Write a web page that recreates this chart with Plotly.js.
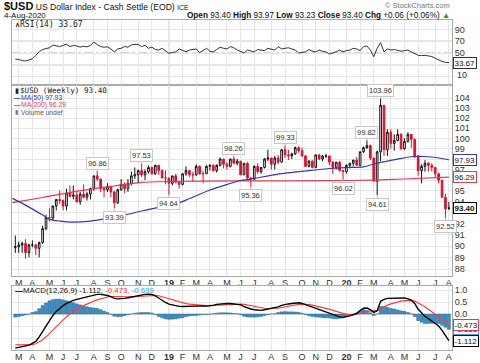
<!DOCTYPE html>
<html><head><meta charset="utf-8">
<script src="https://cdn.plot.ly/plotly-3.0.1.min.js"></script>
<style>html,body{margin:0;padding:0;background:#fff;}#chart{width:480px;height:363px;}</style>
</head><body><div id="chart"></div>
<script>
// ---------- DATA ----------
const weeks = [
'2018-02-26','2018-03-05','2018-03-12','2018-03-19','2018-03-26','2018-04-02','2018-04-09','2018-04-16','2018-04-23','2018-04-30',
'2018-05-07','2018-05-14','2018-05-21','2018-05-28','2018-06-04','2018-06-11','2018-06-18','2018-06-25','2018-07-02','2018-07-09',
'2018-07-16','2018-07-23','2018-07-30','2018-08-06','2018-08-13','2018-08-20','2018-08-27','2018-09-03','2018-09-10','2018-09-17',
'2018-09-24','2018-10-01','2018-10-08','2018-10-15','2018-10-22','2018-10-29','2018-11-05','2018-11-12','2018-11-19','2018-11-26',
'2018-12-03','2018-12-10','2018-12-17','2018-12-24','2018-12-31','2019-01-07','2019-01-14','2019-01-21','2019-01-28','2019-02-04',
'2019-02-11','2019-02-18','2019-02-25','2019-03-04','2019-03-11','2019-03-18','2019-03-25','2019-04-01','2019-04-08','2019-04-15',
'2019-04-22','2019-04-29','2019-05-06','2019-05-13','2019-05-20','2019-05-27','2019-06-03','2019-06-10','2019-06-17','2019-06-24',
'2019-07-01','2019-07-08','2019-07-15','2019-07-22','2019-07-29','2019-08-05','2019-08-12','2019-08-19','2019-08-26','2019-09-02',
'2019-09-09','2019-09-16','2019-09-23','2019-09-30','2019-10-07','2019-10-14','2019-10-21','2019-10-28','2019-11-04','2019-11-11',
'2019-11-18','2019-11-25','2019-12-02','2019-12-09','2019-12-16','2019-12-23','2019-12-30','2020-01-06','2020-01-13','2020-01-20',
'2020-01-27','2020-02-03','2020-02-10','2020-02-17','2020-02-24','2020-03-02','2020-03-09','2020-03-16','2020-03-23','2020-03-30',
'2020-04-06','2020-04-13','2020-04-20','2020-04-27','2020-05-04','2020-05-11','2020-05-18','2020-05-25','2020-06-01','2020-06-08',
'2020-06-15','2020-06-22','2020-06-29','2020-07-06','2020-07-13','2020-07-20','2020-07-27','2020-08-03'];

const openP = [
89.85,89.94,90.09,90.23,89.43,90.10,90.10,89.80,90.30,91.55,
92.55,92.50,93.60,94.20,94.10,93.60,94.80,94.50,94.60,94.00,
94.70,94.40,94.70,95.20,96.40,96.10,95.20,95.10,95.40,94.90,
93.90,95.10,95.60,95.20,95.70,96.40,96.50,96.90,96.50,96.80,
97.20,96.60,97.40,96.90,96.20,96.20,95.70,96.40,95.80,95.60,
96.60,96.90,96.50,96.50,97.30,96.60,96.60,97.30,97.40,96.90,
97.40,98.00,97.50,97.30,98.00,97.60,97.80,96.50,97.60,96.20,
96.10,97.30,96.80,97.20,98.00,98.10,97.50,98.10,97.70,98.90,
98.40,98.30,98.50,99.10,98.80,98.30,97.30,97.80,97.20,98.40,
98.00,98.30,98.30,97.70,97.20,97.70,96.90,96.80,97.40,97.60,
97.90,97.40,98.70,99.10,99.30,98.10,95.90,98.70,103.30,98.90,
100.60,99.50,99.80,100.40,99.00,99.70,100.40,99.90,98.30,96.90,
97.30,97.60,97.40,97.20,96.60,96.00,94.40,93.40];
const highP = [
90.93,90.40,90.40,90.60,90.20,90.50,90.20,90.40,91.80,92.80,
93.40,93.60,94.20,95.00,94.20,95.20,95.50,95.50,95.00,94.90,
95.60,94.90,95.30,96.40,96.86,96.10,95.30,95.70,95.50,95.00,
95.20,96.10,95.80,96.10,96.80,97.20,97.00,97.53,97.00,97.40,
97.30,97.45,97.45,97.00,96.90,96.20,96.40,96.60,95.90,96.60,
97.30,96.90,96.80,97.50,97.40,96.90,97.40,97.50,97.50,97.50,
98.15,98.00,97.70,98.00,98.26,98.00,97.80,97.60,97.70,96.30,
97.40,97.60,97.20,98.10,98.90,98.10,98.30,98.40,98.90,99.33,
98.90,98.60,99.20,99.25,99.10,98.40,97.90,97.90,98.40,98.50,
98.40,98.50,98.30,97.80,97.70,97.80,96.90,97.50,97.60,97.90,
98.20,98.70,99.20,99.82,99.40,98.10,98.80,103.96,103.30,100.90,
100.90,100.40,100.90,100.50,100.00,100.60,100.40,100.00,98.40,97.50,
97.90,97.70,97.60,97.20,96.70,96.00,94.70,93.97];
const lowP = [
89.40,89.40,89.40,88.90,89.00,89.90,89.20,89.00,90.20,91.40,
92.20,92.30,93.20,93.80,93.20,93.20,94.40,94.20,93.90,93.70,
94.30,94.10,94.20,95.00,95.90,94.90,94.40,94.90,94.40,93.39,
93.80,95.00,94.80,94.90,95.50,96.10,95.70,96.30,96.00,96.60,
96.50,96.50,96.50,96.20,95.60,94.64,95.50,95.70,95.20,95.50,
96.40,96.30,95.90,96.40,96.50,95.70,96.60,96.90,96.80,96.70,
97.30,97.10,97.00,97.20,97.50,97.40,96.50,96.50,96.10,95.36,
96.00,96.60,96.60,97.10,97.80,97.00,97.00,97.50,97.70,98.10,
97.90,98.00,98.40,98.60,98.20,97.30,97.20,97.10,97.10,97.90,
97.80,98.10,97.40,96.60,97.00,96.80,96.02,96.60,97.10,97.30,
97.40,97.30,98.60,99.00,97.90,95.90,94.61,97.80,98.30,98.30,
99.00,98.80,99.70,98.90,98.90,99.60,99.10,98.10,96.40,95.70,
96.80,96.80,96.80,96.20,95.70,94.40,92.52,93.23];
const closeP = [
89.94,90.09,90.23,89.43,90.10,90.10,89.80,90.30,91.55,92.55,
92.50,93.60,94.20,94.10,93.60,94.80,94.50,94.60,94.00,94.70,
94.40,94.70,95.20,96.40,96.10,95.20,95.10,95.40,94.90,93.90,
95.10,95.60,95.20,95.70,96.40,96.50,96.90,96.50,96.80,97.20,
96.60,97.40,96.90,96.20,96.20,95.70,96.40,95.80,95.60,96.60,
96.90,96.50,96.50,97.30,96.60,96.60,97.30,97.40,96.90,97.40,
98.00,97.50,97.30,98.00,97.60,97.80,96.50,97.60,96.20,96.10,
97.30,96.80,97.20,98.00,98.10,97.50,98.10,97.70,98.90,98.40,
98.30,98.50,99.10,98.80,98.30,97.30,97.80,97.20,98.40,98.00,
98.30,98.30,97.70,97.20,97.70,96.90,96.80,97.40,97.60,97.90,
97.40,98.70,99.10,99.30,98.10,95.90,98.70,103.30,98.90,100.60,
99.50,99.80,100.40,99.00,99.70,100.40,99.90,98.30,96.90,97.30,
97.60,97.40,97.20,96.60,96.00,94.40,93.34,93.40];

const ma50Dates = ['2018-02-20','2018-03-19','2018-04-23','2018-05-07','2018-05-28','2018-06-25','2018-07-30','2018-09-03','2018-10-08','2018-11-12','2018-12-10','2019-01-14','2019-02-11','2019-04-01','2019-06-03','2019-06-24','2019-08-19','2019-10-21','2019-12-09','2020-01-06','2020-02-10','2020-03-16','2020-04-20','2020-05-18','2020-06-22','2020-07-20','2020-08-03'];
const ma50 = [94.30,93.68,92.77,92.38,92.23,92.14,92.23,92.47,92.77,93.14,93.41,93.68,94.14,95.07,95.96,96.10,96.57,96.89,97.12,97.19,97.26,97.68,98.00,98.22,98.22,98.05,97.93];
const ma200Dates = ['2018-02-20','2018-04-23','2018-06-25','2018-09-03','2018-11-12','2019-01-07','2019-06-03','2019-12-02','2020-03-02','2020-04-20','2020-08-03'];
const ma200 = [93.91,94.38,94.90,95.36,95.78,95.87,95.92,95.95,95.99,96.08,96.29];

const rsi = [
39.5,39.0,37.0,36.5,38.0,40.0,46.0,52.0,56.0,58.0,
59.0,63.5,62.0,61.0,63.0,65.0,61.0,63.0,62.0,60.0,
61.5,60.5,63.0,68.8,64.5,61.0,60.0,60.5,57.0,52.0,
57.0,58.0,61.0,60.0,64.0,64.0,65.0,61.0,63.0,58.0,
60.0,56.0,55.0,58.0,54.0,49.4,51.0,52.0,57.0,54.0,
52.0,55.0,56.0,57.0,50.5,55.0,58.0,53.0,52.0,56.0,
60.0,58.0,57.0,61.0,59.0,55.0,53.0,50.0,55.0,54.0,
52.0,56.0,55.0,54.0,58.0,57.0,55.0,61.0,57.0,58.0,
59.0,57.0,55.0,50.0,51.0,52.0,56.0,53.0,52.0,55.0,
53.0,52.0,48.3,50.0,52.0,55.0,52.0,54.0,55.0,58.0,
57.0,54.0,61.0,62.0,55.0,43.7,58.0,67.6,52.0,57.0,
55.0,56.0,55.0,53.0,54.0,55.0,52.0,49.0,46.0,45.5,
46.0,45.0,44.0,41.0,38.0,35.5,34.0,33.67];

const signalLine = [
-1.29,-1.29,-1.30,-1.30,-1.30,-1.28,-1.24,-1.17,-1.07,-0.95,
-0.81,-0.66,-0.51,-0.37,-0.24,-0.11,0.00,0.10,0.19,0.27,
0.35,0.42,0.48,0.54,0.59,0.64,0.68,0.71,0.73,0.74,
0.74,0.73,0.72,0.71,0.71,0.72,0.73,0.74,0.76,0.77,
0.78,0.78,0.76,0.72,0.68,0.63,0.58,0.53,0.49,0.46,
0.43,0.41,0.39,0.38,0.37,0.36,0.35,0.35,0.35,0.36,
0.37,0.38,0.39,0.40,0.41,0.41,0.41,0.40,0.37,0.34,
0.31,0.28,0.25,0.24,0.23,0.23,0.23,0.24,0.27,0.30,
0.33,0.35,0.38,0.40,0.41,0.41,0.39,0.37,0.34,0.31,
0.28,0.24,0.20,0.16,0.11,0.06,0.02,-0.01,-0.02,-0.02,
-0.01,0.02,0.06,0.10,0.13,0.13,0.14,0.22,0.30,0.37,
0.42,0.47,0.51,0.54,0.56,0.57,0.57,0.54,0.47,0.39,
0.30,0.20,0.10,0.00,-0.10,-0.21,-0.33,-0.473];
const macdLine = [
-1.42,-1.39,-1.37,-1.34,-1.30,-1.22,-1.14,-0.95,-0.72,-0.49,
-0.26,-0.06,0.11,0.25,0.35,0.44,0.51,0.57,0.61,0.65,
0.68,0.72,0.75,0.79,0.82,0.82,0.80,0.77,0.72,0.65,
0.63,0.63,0.65,0.68,0.71,0.75,0.78,0.80,0.82,0.83,
0.82,0.76,0.66,0.56,0.48,0.41,0.37,0.33,0.32,0.31,
0.32,0.33,0.33,0.32,0.33,0.34,0.33,0.34,0.36,0.40,
0.42,0.43,0.44,0.44,0.43,0.42,0.38,0.31,0.25,0.21,
0.18,0.16,0.15,0.18,0.21,0.23,0.24,0.30,0.36,0.40,
0.42,0.44,0.46,0.47,0.44,0.39,0.32,0.27,0.22,0.18,
0.13,0.08,0.04,-0.03,-0.09,-0.12,-0.14,-0.12,-0.08,-0.03,
0.03,0.14,0.24,0.25,0.18,0.07,0.14,0.53,0.61,0.65,
0.65,0.68,0.68,0.67,0.67,0.63,0.58,0.44,0.20,0.05,
-0.10,-0.19,-0.29,-0.38,-0.50,-0.68,-0.88,-1.112];
const macdHist = [
-0.13,-0.10,-0.07,-0.04,0.00,0.06,0.10,0.22,0.35,0.46,
0.55,0.60,0.62,0.62,0.59,0.55,0.51,0.47,0.42,0.38,
0.33,0.30,0.27,0.25,0.23,0.18,0.12,0.06,-0.01,-0.09,
-0.11,-0.10,-0.07,-0.03,0.00,0.03,0.05,0.06,0.06,0.06,
0.04,-0.02,-0.10,-0.16,-0.20,-0.22,-0.21,-0.20,-0.17,-0.15,
-0.11,-0.08,-0.06,-0.06,-0.04,-0.02,-0.02,-0.01,0.01,0.04,
0.05,0.05,0.05,0.04,0.02,0.01,-0.03,-0.09,-0.12,-0.13,
-0.13,-0.12,-0.10,-0.06,-0.02,0.00,0.01,0.06,0.09,0.10,
0.09,0.09,0.08,0.07,0.03,-0.02,-0.07,-0.10,-0.12,-0.13,
-0.15,-0.16,-0.16,-0.19,-0.20,-0.18,-0.16,-0.11,-0.06,-0.01,
0.04,0.12,0.18,0.15,0.05,-0.06,0.00,0.31,0.31,0.28,
0.23,0.21,0.17,0.13,0.11,0.06,0.01,-0.10,-0.27,-0.34,
-0.40,-0.39,-0.39,-0.38,-0.40,-0.47,-0.55,-0.639];

const peakDates = ['2018-08-13','2018-11-12','2019-05-20','2019-09-02','2020-02-17','2020-03-16'];
const peakValues = [96.86,97.53,98.26,99.33,99.82,103.96];
const troughDates = ['2018-09-17','2019-01-07','2019-06-24','2019-12-30','2020-03-09','2020-07-27'];
const troughValues = [93.39,94.64,95.36,96.02,94.61,92.52];

const monthLetters = ['J','F','M','A','M','J','J','A','S','O','N','D'];
const priceTicks = [88,89,90,91,92,93,94,95,96,97,98,99,100,101,102,103,104];
const priceTickText = ['88','89','90','91','92','','94','95','','97','','99','100','101','102','103','104'];
const rsiTicks = [10,30,50,70,90];
const rsiTickText = ['10','','50','70','90'];
const macdTicks = [-1,-0.5,0,0.5,1];
const macdTickText = ['','','0.0','0.5','1.0'];

// ---------- BUILD ----------
const F = 'Liberation Sans, Arial, sans-serif';
const MONO = 'DejaVu Sans Mono, Liberation Mono, monospace';
const BLUE = '#3838a8', RED = '#e23a55', CANDLE_RED = '#e0102f', HIST = '#3f8fc4';
const n = weeks.length;
const last = n - 1;

const tickvals = [], ticktext = [], yearTicks = [];
let prevKey = weeks[0].slice(0, 7);
weeks.forEach((d, i) => {
  const key = d.slice(0, 7);
  if (i > 0 && key !== prevKey) {
    const m = +d.slice(5, 7);
    tickvals.push(d);
    if (m === 1) { ticktext.push('<b>' + d.slice(2, 4) + '</b>'); yearTicks.push(d); }
    else ticktext.push(monthLetters[m - 1]);
  }
  prevKey = key;
});

const xRange = ['2018-02-19 05:30', '2020-08-09 10:00'];
const GRID = '#e6e6e6', BORDER = '#aaaaaa';

const traces = [
  {type:'scatter', mode:'lines', x:weeks, y:rsi, xaxis:'x', yaxis:'y', line:{color:'#333', width:1}, hoverinfo:'skip'},
  {type:'scatter', mode:'lines', x:ma200Dates, y:ma200, xaxis:'x2', yaxis:'y2', line:{color:RED, width:1.2, shape:'spline', smoothing:0.6}, hoverinfo:'skip'},
  {type:'scatter', mode:'lines', x:ma50Dates, y:ma50, xaxis:'x2', yaxis:'y2', line:{color:BLUE, width:1.2, shape:'spline', smoothing:0.6}, hoverinfo:'skip'},
  {type:'candlestick', x:weeks, open:openP, high:highP, low:lowP, close:closeP, xaxis:'x2', yaxis:'y2',
   increasing:{line:{color:'#111', width:1}, fillcolor:'#ffffff'},
   decreasing:{line:{color:CANDLE_RED, width:1}, fillcolor:CANDLE_RED},
   whiskerwidth:0, hoverinfo:'skip'},
  {type:'bar', x:weeks, y:macdHist, xaxis:'x3', yaxis:'y3', marker:{color:HIST, line:{color:'#23648f', width:0.5}}, hoverinfo:'skip'},
  {type:'scatter', mode:'lines', x:weeks, y:signalLine, xaxis:'x3', yaxis:'y3', line:{color:'#ff3b3b', width:1.2}, hoverinfo:'skip'},
  {type:'scatter', mode:'lines', x:weeks, y:macdLine, xaxis:'x3', yaxis:'y3', line:{color:'#000', width:1.4}, hoverinfo:'skip'}
];

function xAx(anchor, showLabels) {
  return {anchor, domain:[0,1], type:'date', range:xRange, tickvals, ticktext, showticklabels:showLabels,
    tickfont:{family:F, size:9, color:'#333'}, ticks:'', ticklabelstandoff:-2, showgrid:true, gridcolor:GRID, gridwidth:1,
    showline:true, mirror:true, linecolor:BORDER, linewidth:1, zeroline:false, rangeslider:{visible:false}, fixedrange:true};
}
function yAx(domain, extra) {
  return Object.assign({domain, side:'right', ticks:'', showgrid:true, gridcolor:GRID, showline:true, mirror:true,
    linecolor:BORDER, linewidth:1, zeroline:false, fixedrange:true, ticklabeloverflow:'allow',
    tickfont:{family:F, size:9, color:'#333'}}, extra);
}

// plot area: x 12..452, y 20..350
const px2x = x => (x - 12) / 440, px2y = y => (350 - y) / 330;
const ann = [];
function txt(xp, yp, text, size, color, extra) {
  ann.push(Object.assign({xref:'paper', yref:'paper', x:px2x(xp), y:px2y(yp), text, showarrow:false,
    xanchor:'left', yanchor:'middle', font:{family:F, size, color}}, extra || {}));
}
const f2 = v => v.toFixed(2);
const chg = closeP[last] - closeP[last - 1];

txt(2, 6.5, '<span style="font-size:11px"><b>$USD</b></span> US Dollar Index - Cash Settle (EOD) <span style="font-size:7px">ICE</span>', 8.6, '#111');
txt(2, 15.5, '4-Aug-2020', 8, '#111');
txt(452, 5, '© StockCharts.com', 7.5, '#777', {xanchor:'right'});
txt(452, 15.5, '<b>Open</b> ' + f2(openP[last]) + ' <b>High</b> ' + f2(highP[last]) + ' <b>Low</b> ' + f2(lowP[last]) +
  ' <b>Close</b> ' + f2(closeP[last]) + ' <b>Chg</b> +' + f2(chg) + ' (+' + f2(chg / closeP[last - 1] * 100) + '%) <span style="color:#22a022">▲</span>',
  8.2, '#111', {xanchor:'right'});

// RSI "10" tick label (drawn as text next to the axis)
ann.push({xref:'paper', yref:'y', x:1, y:rsiTicks[0] + 2, xanchor:'left', yanchor:'middle', xshift:3, showarrow:false,
  text:rsiTickText[0], font:{family:F, size:9, color:'#333'}});

// panel legends
txt(12.5, 24.5, '<b>∧</b>', 7, '#333');
txt(18, 24.5, 'RSI(14) ' + f2(rsi[last]), 8, '#222', {font:{family:MONO, size:8, color:'#222'}});
txt(12.5, 90.5, '▮', 7, '#222');
txt(18, 90.5, '$USD (Weekly) ' + f2(closeP[last]), 8, '#222', {font:{family:MONO, size:7.6, color:'#222'}});
txt(12, 97.6, '<b>—</b>', 6.5, BLUE);
txt(19, 97.6, 'MA(50) ' + f2(ma50[ma50.length - 1]), 6.8, BLUE);
txt(12, 104.8, '<b>—</b>', 6.5, RED);
txt(19, 104.8, 'MA(200) ' + f2(ma200[ma200.length - 1]), 6.8, RED);
txt(12.5, 112, '▮', 6, '#777');
txt(19, 112, 'Volume undef', 6.8, '#555');
txt(12.5, 290.5, '<b>—</b>', 8, '#000');
txt(21, 290.5, 'MACD(12,26,9) ' + macdLine[last].toFixed(3) + ', <span style="color:#ff3030">' + signalLine[last].toFixed(3) +
  ',</span> <span style="color:#3aa0dc">' + macdHist[last].toFixed(3) + '</span>', 7.8, '#111');

// swing labels
function swing(d, v, up) {
  ann.push({xref:'x2', yref:'y2', x:d, y:Math.log10(v), text:f2(v), showarrow:true, arrowhead:0, arrowwidth:1,
    arrowcolor:'#bbbbbb', ax:0, ay:up ? -8 : 9, standoff:0, bgcolor:'#ffffff', bordercolor:'#c8c8c8', borderwidth:1,
    borderpad:1, font:{family:F, size:7.5, color:'#333'}});
}
peakDates.forEach((d, i) => swing(d, peakValues[i], true));
troughDates.forEach((d, i) => swing(d, troughValues[i], false));

// right value tags
function tag(yref, y, text, color, bold) {
  ann.push({xref:'paper', yref, x:1, y, xanchor:'left', yanchor:'middle', xshift:1, text:bold ? '<b>' + text + '</b>' : text,
    showarrow:false, bgcolor:'#ffffff', bordercolor:color, borderwidth:1, borderpad:0.5,
    font:{family:F, size:8, color:'#111'}});
}
tag('y', rsi[last], f2(rsi[last]), '#333', false);
tag('y2', Math.log10(ma50[ma50.length - 1]), f2(ma50[ma50.length - 1]), BLUE, false);
tag('y2', Math.log10(ma200[ma200.length - 1]), f2(ma200[ma200.length - 1]), RED, false);
tag('y2', Math.log10(closeP[last]), f2(closeP[last]), '#000', true);
tag('y3', macdHist[last], macdHist[last].toFixed(3), '#3aa0dc', false);
tag('y3', signalLine[last], signalLine[last].toFixed(3), RED, false);
tag('y3', macdLine[last], macdLine[last].toFixed(3), '#000', false);

// shapes
const shapes = [
  {type:'line', xref:'paper', x0:0, x1:1, yref:'y', y0:70, y1:70, line:{color:'#999', width:1.3}, layer:'below'},
  {type:'line', xref:'paper', x0:0, x1:1, yref:'y', y0:30, y1:30, line:{color:'#999', width:1.3}, layer:'below'},
  {type:'line', xref:'paper', x0:0, x1:1, yref:'y', y0:50, y1:50, line:{color:'#aaa', width:1, dash:'dashdot'}, layer:'below'}
];
yearTicks.forEach(d => ['y domain', 'y2 domain', 'y3 domain'].forEach(r =>
  shapes.push({type:'line', xref:'x', x0:d, x1:d, yref:r, y0:0, y1:1, line:{color:'#c4c4c4', width:1}, layer:'below'})));

const layout = {
  width:480, height:363, margin:{l:12, r:28, t:20, b:13, pad:0},
  paper_bgcolor:'#ffffff', plot_bgcolor:'#ffffff', showlegend:false, hovermode:false,
  font:{family:F, size:9, color:'#333'}, bargap:0.12,
  xaxis:xAx('y', false), xaxis2:Object.assign(xAx('y2', true), {matches:'x'}), xaxis3:Object.assign(xAx('y3', true), {matches:'x'}),
  yaxis:yAx([0.8030, 1], {range:[-4.7, 106.4], tickvals:rsiTicks, ticktext:['', '', '50', '70', '90']}),
  yaxis2:yAx([0.2242, 0.8030], {type:'log', range:[1.9415, 2.0227], tickvals:priceTicks, ticktext:priceTickText}),
  yaxis3:yAx([0, 0.1939], {range:[-1.5, 1.167], tickvals:macdTicks, ticktext:macdTickText}),
  annotations:ann, shapes
};
Plotly.newPlot('chart', traces, layout, {staticPlot:true, displayModeBar:false});
</script></body></html>
